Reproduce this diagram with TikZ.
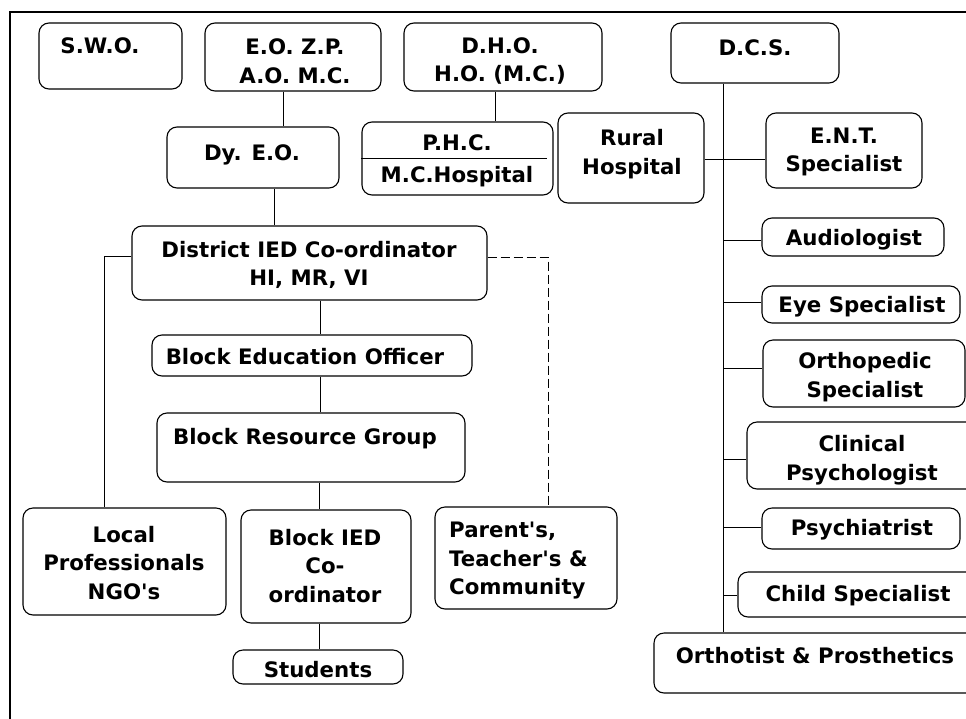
\documentclass[tikz,border=0pt]{standalone}
\usepackage{fontspec}
\setmainfont{DejaVu Sans}[Ligatures=TeXOff]
\usetikzlibrary{fit}
\begin{document}
\begin{tikzpicture}[x=1pt,y=-1pt,
  box/.style={draw, rounded corners=10pt, line width=1.1pt, inner sep=0pt},
  txt/.style={font=\fontsize{21.3}{28.5}\selectfont\bfseries, align=center, inner sep=0pt},
  conn/.style={line width=0.9pt},
  dconn/.style={line width=0.9pt, dash pattern=on 9pt off 4pt}]
\useasboundingbox (0,0) rectangle (966,718);
% frame
\draw[line width=1.6pt] (10,730) -- (10,12) -- (990,12);
% top row
\node[box, fit={(39,23) (182,89)}] (swo) {};
\node[txt] (swot) at (100,46) {S.W.O.};
\node[box, fit={(205,23) (381,91)}] (eo) {};
\node[txt] (eot) at (295,61) {E.O. Z.P.\\A.O. M.C.};
\node[box, fit={(404,23) (602,91)}] (dho) {};
\node[txt] (dhot) at (500,61) {D.H.O.\\H.O. (M.C.)};
\node[box, fit={(671,23) (839,83)}] (dcs) {};
\node[txt] (dcst) at (755,48) {D.C.S.};
% second row
\node[box, fit={(167,127) (339,188)}] (dyeo) {};
\node[txt] (dyeot) at (252,155) {Dy. E.O.};
\node[box, fit={(362,122) (553,195)}] (phc) {};
\draw[conn] (phc.west |- 0,158) -- (547,158);
\node[txt] (phct) at (457,143) {P.H.C.};
\node[txt] (mcht) at (457,177) {M.C.Hospital};
\node[box, fit={(558,113) (704,203)}] (rural) {};
\node[txt] (ruralt) at (632,154) {Rural\\Hospital};
\node[box, fit={(766,113) (922,188)}] (ent) {};
\node[txt] (entt) at (844,152) {E.N.T.\\Specialist};
% right column
\node[box, fit={(762,218) (944,256)}] (audio) {};
\node[txt] (audiot) at (854,240) {Audiologist};
\node[box, fit={(762,286) (960,323)}] (eye) {};
\node[txt] (eyet) at (862,307) {Eye Specialist};
\node[box, fit={(763,340) (965,407)}] (ortho) {};
\node[txt] (orthot) at (865,377) {Orthopedic\\Specialist};
\node[box, fit={(747,422) (990,489)}] (clin) {};
\node[txt] (clint) at (862,460) {Clinical\\Psychologist};
\node[box, fit={(762,508) (960,549)}] (psych) {};
\node[txt] (psycht) at (862,530) {Psychiatrist};
\node[box, fit={(738,572) (990,617)}] (child) {};
\node[txt] (childt) at (858,596) {Child Specialist};
\node[box, fit={(654,633) (990,693)}] (orth) {};
\node[txt] (ortht) at (815,656) {Orthotist \& Prosthetics};
% middle column
\node[box, fit={(132,226) (487,300)}] (dist) {};
\node[txt] (distt) at (309,265) {District IED Co-ordinator\\HI, MR, VI};
\node[box, fit={(152,335) (472,376)}] (beo) {};
\node[txt] (beot) at (305,357) {Block Education Officer};
\node[box, fit={(157,413) (465,482)}] (brg) {};
\node[txt] (brgt) at (305,439) {Block Resource Group};
\node[box, fit={(23,508) (226,615)}] (local) {};
\node[txt] (localt) at (124,563) {Local\\Professionals\\NGO's};
\node[box, fit={(241,510) (411,623)}] (bied) {};
\node[txt] (biedt) at (325,566) {Block IED\\Co-\\ordinator};
\node[box, fit={(233,650) (403,684)}] (stud) {};
\node[txt] (studt) at (318,670) {Students};
\node[box, fit={(435,507) (617,609)}] (par) {};
\node[txt, align=left, anchor=west] (part) at (449,561) {Parent's,\\Teacher's \&\\Community};
% connectors
\draw[conn] (283,0 |- eo.south) -- (283,0 |- dyeo.north);
\draw[conn] (495,0 |- dho.south) -- (495,0 |- phc.north);
\draw[conn] (723,0 |- dcs.south) -- (723,0 |- orth.north);
\draw[conn] (rural.east |- 0,159) -- (ent.west |- 0,159);
\draw[conn] (723,240) -- (audio.west |- 0,240);
\draw[conn] (723,302) -- (eye.west |- 0,302);
\draw[conn] (723,368) -- (ortho.west |- 0,368);
\draw[conn] (723,459) -- (clin.west |- 0,459);
\draw[conn] (723,527) -- (psych.west |- 0,527);
\draw[conn] (723,595) -- (child.west |- 0,595);
\draw[conn] (274,0 |- dyeo.south) -- (274,0 |- dist.north);
\draw[conn] (dist.west |- 0,256) -- (104,256) -- (104,0 |- local.north);
\draw[dconn] (dist.east |- 0,257) -- (548,257) -- (548,0 |- par.north);
\draw[conn] (320,0 |- dist.south) -- (320,0 |- beo.north);
\draw[conn] (320,0 |- beo.south) -- (320,0 |- brg.north);
\draw[conn] (319,0 |- brg.south) -- (319,0 |- bied.north);
\draw[conn] (319,0 |- bied.south) -- (319,0 |- stud.north);
\end{tikzpicture}
\end{document}
